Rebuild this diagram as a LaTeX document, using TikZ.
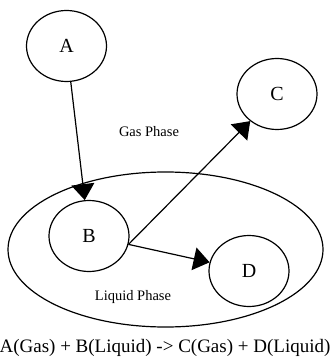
\documentclass[tikz,border=0pt]{standalone}
\usepackage{fontspec}
\setmainfont{Liberation Serif}
\usetikzlibrary{shapes.geometric,arrows.meta}
\begin{document}
\begin{tikzpicture}[x=1pt,y=-1pt,
  species/.style={draw,ellipse,line width=1.2pt,minimum width=80pt,minimum height=71pt,inner sep=0pt,font=\fontsize{20}{24}\selectfont},
  phase/.style={draw,ellipse,line width=1.2pt,minimum width=315pt,minimum height=155pt,inner sep=0pt},
  lbl/.style={inner sep=0pt,anchor=base,font=\fontsize{14.5}{17}\selectfont},
  rxn/.style={line width=1.2pt,-{Triangle[length=16pt,width=23pt]}}]
\useasboundingbox (0,0) rectangle (330,358);
\node[phase] (L) at (165.5,249.5) {};
\node[species] (A) at (66.5,46) {A};
\node[species] (C) at (277,94) {C};
\node[species] (B) at (89,236) {B};
\node[species] (D) at (249,271) {D};
\node[lbl] (gas) at (149,136) {Gas Phase};
\node[lbl] (liq) at (133,300) {Liquid Phase};
\node[inner sep=0pt,anchor=base,font=\fontsize{19}{23}\selectfont] (eq) at (165,352.5) {A(Gas) + B(Liquid) -> C(Gas) + D(Liquid)};
\draw[rxn] (A) -- (B);
\draw[rxn] (B.-12) -- (C);
\draw[rxn] (B.-12) -- (D);
\end{tikzpicture}
\end{document}
